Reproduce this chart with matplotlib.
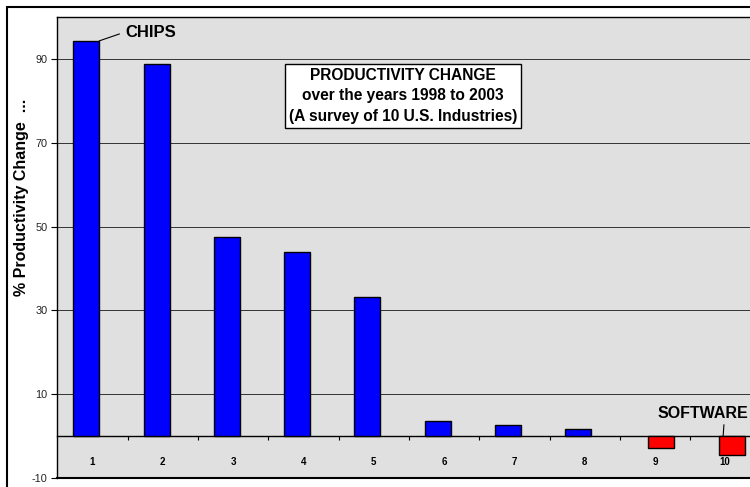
import numpy as np
import matplotlib
matplotlib.use('Agg')
import matplotlib.pyplot as plt
from matplotlib.patches import Rectangle

plt.rcParams['font.family'] = ['Liberation Sans', 'DejaVu Sans']
plt.rcParams['axes.unicode_minus'] = False

# data
industries = ['1', '2', '3', '4', '5', '6', '7', '8', '9', '10']
changes = [94.3, 88.8, 47.4, 44.0, 33.1, 3.7, 2.7, 1.7, -2.9, -4.4]
y_ticks = [-10, 10, 30, 50, 70, 90]

x = np.arange(len(industries))
vals = np.array(changes)
pos = vals >= 0
neg = vals < 0

W, H = 750, 487
fig = plt.figure(figsize=(W / 100, H / 100), dpi=100)
fig.patch.set_facecolor('white')

# plot area runs past the right edge like the original screenshot
ax = fig.add_axes([57.4 / W, 1 - 478 / H, 703 / W, (478 - 17) / H])
ax.set_facecolor('#e0e0e0')

bw = 0.37
off = 0.09
ax.bar(x[pos] - off, vals[pos], width=bw, color='#0000ff', edgecolor='black', linewidth=1, zorder=3)
ax.bar(x[neg] + off, vals[neg], width=bw, color='#ff0000', edgecolor='black', linewidth=1, zorder=3)

ax.set_xlim(-0.5, len(industries) - 0.5)
ax.set_ylim(-10, 100)
ax.set_xticks([])
ax.set_yticks(y_ticks)
ax.tick_params(axis='y', direction='out', length=4, width=0.8, pad=3,
               labelsize=7.8, labelcolor='#222222')
ax.grid(axis='y', color='#333333', linewidth=0.7, zorder=1)
for s in ax.spines.values():
    s.set_color('black')
    s.set_linewidth(1)
ax.spines['bottom'].set_linewidth(1.5)

# category axis sitting on zero
zero_loc = (0 - ax.get_ylim()[0]) / (ax.get_ylim()[1] - ax.get_ylim()[0])
sec = ax.secondary_xaxis(zero_loc)
sec.spines['bottom'].set_linewidth(1)
sec.spines['bottom'].set_color('black')
sec.set_xticks(x)
sec.set_xticklabels(industries, fontsize=7, fontweight='bold')
sec.set_xticks(x[:-1] + 0.5, minor=True)
sec.tick_params(axis='x', which='major', length=0, pad=15)
sec.tick_params(axis='x', which='minor', length=3, width=0.8, direction='out')

fig.text(22 / W, 1 - 197 / H, '% Productivity Change  ...', rotation=90,
         ha='center', va='center', fontsize=11.5, fontweight='bold')

# labels on the first and last bars
ax.annotate('CHIPS', xy=(x[0] - off + bw / 2, changes[0]), xytext=(0.46, 96.4),
            fontsize=12, fontweight='bold', ha='left', va='center',
            arrowprops=dict(arrowstyle='-', color='black', lw=0.8,
                            relpos=(0, 0.5), shrinkA=2, shrinkB=0))
ax.annotate('SOFTWARE', xy=(x[-1] - 0.03, 0), xytext=(8.03, 5.5),
            fontsize=11.5, fontweight='bold', ha='left', va='center',
            arrowprops=dict(arrowstyle='-', color='black', lw=0.8,
                            relpos=(0.74, 0), shrinkA=1, shrinkB=0))

ax.text(4.42, 81.2, 'PRODUCTIVITY CHANGE\nover the years 1998 to 2003\n(A survey of 10 U.S. Industries)',
        ha='center', va='center', fontsize=11.2, fontweight='bold', linespacing=1.45,
        bbox=dict(boxstyle='square,pad=0.25', facecolor='white', edgecolor='black', linewidth=1),
        zorder=5)

# outer chart border (cut off at right and bottom)
fig.patches.append(Rectangle((7 / W, -0.5), 1.5, 1 - 7 / H + 0.5, transform=fig.transFigure,
                             fill=False, edgecolor='black', linewidth=1.5))

fig.savefig('out.png', dpi=100)
